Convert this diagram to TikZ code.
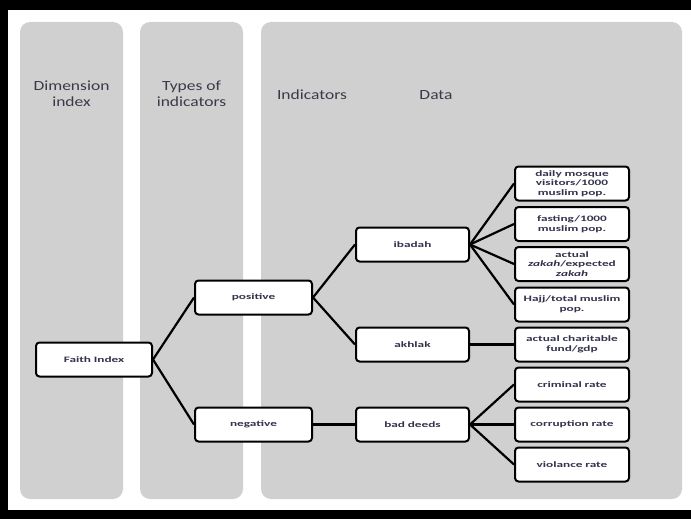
\documentclass[tikz,border=0pt]{standalone}
\usepackage{fontspec}
\setmainfont{Carlito}
\newfontfamily\boxfont[FakeStretch=1.6]{Carlito}
\newfontfamily\headfont[FakeStretch=1.25]{Carlito}
\definecolor{panelgrey}{HTML}{D0D0D0}
\definecolor{headtxt}{HTML}{3A3A48}
\definecolor{boxtxt}{HTML}{33334D}
\begin{document}
\begin{tikzpicture}[x=1pt,y=-1pt,
  panel/.style={fill=panelgrey, rounded corners=10pt},
  head/.style={text=headtxt, align=center, font=\headfont\fontsize{14}{16}\selectfont, inner sep=0pt},
  box/.style={draw=black, line width=2pt, rounded corners=3.5pt, fill=white,
    minimum width=114pt, minimum height=34pt, text width=110pt, align=center,
    inner sep=1pt, text=boxtxt, font=\boxfont\bfseries\fontsize{8.3}{9.6}\selectfont},
  link/.style={line width=2.2pt, draw=black}]
\useasboundingbox (0,0) rectangle (691,519);
% outer black frame (top, left, bottom)
\fill[black] (0,0) rectangle (691,10);
\fill[black] (0,0) rectangle (8,519);
\fill[black] (0,510) rectangle (691,519);
% panels
\fill[panel] (20,22) rectangle (123,499);
\fill[panel] (140,22) rectangle (243,499);
\fill[panel] (261,22) rectangle (682,499);
% headers
\node[head] (h1) at (71.5,94) {Dimension\\index};
\node[head] (h2) at (191.5,94) {Types of\\indicators};
\node[head] (h3) at (312,95) {Indicators};
\node[head] (h4) at (436,95) {Data};
% nodes
\node[box, minimum width=116pt] (faith) at (94,359.5) {Faith Index};
\node[box, minimum width=117pt] (pos) at (253.5,297.5) {positive};
\node[box, minimum width=117pt] (neg) at (253.5,424.5) {negative};
\node[box, minimum width=113pt] (ibadah) at (412.5,244.5) {ibadah};
\node[box, minimum width=113pt] (akhlak) at (412.5,344.5) {akhlak};
\node[box, minimum width=113pt] (bad) at (412.5,424.5) {bad deeds};
\node[box] (d1) at (572,183.5) {daily mosque\\visitors/1000\\muslim pop.};
\node[box] (d2) at (572,224) {fasting/1000\\muslim pop.};
\node[box] (d3) at (572,264) {actual\\\textit{zakah}/expected\\\textit{zakah}};
\node[box] (d4) at (572,304.5) {Hajj/total muslim\\pop.};
\node[box] (d5) at (572,344.5) {actual charitable\\fund/gdp};
\node[box] (d6) at (572,384.5) {criminal rate};
\node[box] (d7) at (572,424.5) {corruption rate};
\node[box] (d8) at (572,464.5) {violance rate};
% connectors
\draw[link] (faith.east) -- (pos.west);
\draw[link] (faith.east) -- (neg.west);
\draw[link] (pos.east) -- (ibadah.west);
\draw[link] (pos.east) -- (akhlak.west);
\draw[link] (neg.east) -- (bad.west);
\draw[link] (ibadah.east) -- (d1.west);
\draw[link] (ibadah.east) -- (d2.west);
\draw[link] (ibadah.east) -- (d3.west);
\draw[link] (ibadah.east) -- (d4.west);
\draw[link] (akhlak.east) -- (d5.west);
\draw[link] (bad.east) -- (d6.west);
\draw[link] (bad.east) -- (d7.west);
\draw[link] (bad.east) -- (d8.west);
\end{tikzpicture}
\end{document}
